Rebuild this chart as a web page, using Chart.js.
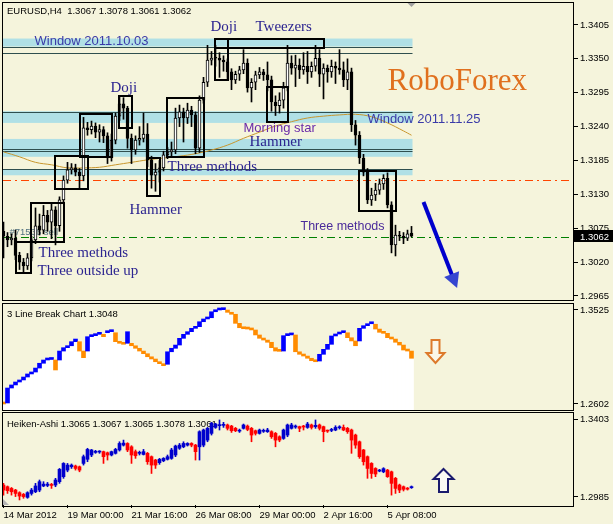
<!DOCTYPE html>
<html>
<head>
    <title>EURUSD,H4</title>
    <script src="https://cdn.jsdelivr.net/npm/chart.js"></script>
    <style>
        body { margin: 0; background: #F5F4DC; }
        canvas { position: absolute; left: 0; }
        #mainChart { top: 0; }
        #lbChart { top: 302px; }
        #haChart { top: 412px; }
    </style>
</head>
<body>
    <canvas id="mainChart" width="613" height="302"></canvas>
    <canvas id="lbChart" width="613" height="110"></canvas>
    <canvas id="haChart" width="613" height="112"></canvas>

    <script>
        // ---- EURUSD H4 candles ----
        const opens = [
            1.3070,1.3062,1.3056,1.3059,1.3031,1.3020,1.3014,1.3027,1.3056,1.3079,
            1.3072,1.3096,1.3085,1.3105,1.3079,1.3121,1.3153,1.3170,1.3173,1.3166,
            1.3160,1.3238,1.3235,1.3241,1.3231,1.3235,1.3225,1.3189,1.3218,1.3257,
            1.3277,1.3270,1.3221,1.3202,1.3218,1.3221,1.3228,1.3186,1.3161,1.3166,
            1.3173,1.3194,1.3199,1.3202,1.3254,1.3264,1.3254,1.3267,1.3259,1.3205,
            1.3283,1.3312,1.3348,1.3351,1.3351,1.3348,1.3345,1.3329,1.3316,1.3325,
            1.3332,1.3343,1.3303,1.3312,1.3324,1.3329,1.3324,1.3316,1.3280,1.3274,
            1.3283,1.3303,1.3343,1.3335,1.3340,1.3332,1.3338,1.3329,1.3338,1.3351,
            1.3325,1.3335,1.3329,1.3338,1.3335,1.3332,1.3316,1.3329,1.3243,1.3226,
            1.3189,1.3166,1.3121,1.3129,1.3137,1.3147,1.3156,1.3113,1.3048,1.3064,
            1.3062,1.3059,1.3067
        ];
        const highs = [
            1.3085,1.3068,1.3066,1.3072,1.3036,1.3026,1.3034,1.3062,1.3108,1.3098,
            1.3112,1.3104,1.3114,1.3110,1.3126,1.3160,1.3182,1.3180,1.3179,1.3172,
            1.3255,1.3247,1.3249,1.3246,1.3243,1.3240,1.3230,1.3228,1.3262,1.3290,
            1.3287,1.3273,1.3228,1.3225,1.3240,1.3262,1.3245,1.3192,1.3180,1.3185,
            1.3200,1.3206,1.3215,1.3270,1.3275,1.3270,1.3278,1.3273,1.3264,1.3290,
            1.3320,1.3372,1.3362,1.3372,1.3360,1.3355,1.3350,1.3334,1.3330,1.3338,
            1.3365,1.3350,1.3318,1.3330,1.3336,1.3333,1.3345,1.3322,1.3290,1.3295,
            1.3312,1.3372,1.3355,1.3356,1.3350,1.3360,1.3362,1.3345,1.3372,1.3365,
            1.3342,1.3340,1.3348,1.3345,1.3365,1.3345,1.3350,1.3335,1.3250,1.3232,
            1.3195,1.3172,1.3140,1.3148,1.3155,1.3162,1.3165,1.3118,1.3080,1.3070,
            1.3068,1.3072,1.3078
        ];
        const lows = [
            1.3027,1.3045,1.3048,1.3024,1.3008,1.3003,1.3008,1.3022,1.3050,1.3064,
            1.3066,1.3070,1.3058,1.3048,1.3070,1.3115,1.3148,1.3163,1.3160,1.3140,
            1.3152,1.3226,1.3228,1.3222,1.3215,1.3214,1.3180,1.3184,1.3212,1.3250,
            1.3252,1.3205,1.3180,1.3195,1.3210,1.3215,1.3175,1.3140,1.3135,1.3150,
            1.3168,1.3188,1.3192,1.3196,1.3240,1.3215,1.3245,1.3240,1.3196,1.3198,
            1.3278,1.3305,1.3340,1.3338,1.3320,1.3330,1.3318,1.3300,1.3310,1.3315,
            1.3326,1.3296,1.3280,1.3300,1.3318,1.3315,1.3298,1.3265,1.3258,1.3262,
            1.3270,1.3298,1.3325,1.3305,1.3318,1.3325,1.3310,1.3320,1.3330,1.3305,
            1.3285,1.3312,1.3320,1.3310,1.3325,1.3305,1.3300,1.3232,1.3210,1.3180,
            1.3160,1.3115,1.3112,1.3120,1.3130,1.3138,1.3108,1.3035,1.3030,1.3055,
            1.3050,1.3055,1.3061
        ];
        const closes = [
            1.3062,1.3056,1.3059,1.3031,1.3020,1.3014,1.3027,1.3056,1.3079,1.3072,
            1.3096,1.3085,1.3105,1.3079,1.3121,1.3153,1.3170,1.3173,1.3166,1.3160,
            1.3238,1.3235,1.3241,1.3231,1.3235,1.3225,1.3189,1.3218,1.3257,1.3277,
            1.3270,1.3221,1.3202,1.3218,1.3221,1.3228,1.3186,1.3161,1.3166,1.3173,
            1.3194,1.3199,1.3202,1.3254,1.3264,1.3254,1.3267,1.3259,1.3205,1.3283,
            1.3312,1.3348,1.3351,1.3351,1.3348,1.3345,1.3329,1.3316,1.3325,1.3332,
            1.3343,1.3303,1.3312,1.3324,1.3329,1.3324,1.3316,1.3280,1.3274,1.3283,
            1.3303,1.3343,1.3335,1.3340,1.3332,1.3338,1.3329,1.3338,1.3351,1.3325,
            1.3335,1.3329,1.3338,1.3335,1.3332,1.3316,1.3329,1.3243,1.3226,1.3189,
            1.3166,1.3121,1.3129,1.3137,1.3147,1.3156,1.3113,1.3048,1.3064,1.3062,
            1.3059,1.3066,1.3062
        ];

        // moving average, read every 4th bar
        const maIdx = [0,4,8,12,16,20,24,28,32,36,40,44,48,52,56,60,64,68,72,76,80,84,88,92,96,100,102];
        const maVals = [
            1.3199,1.3191,1.3182,1.3178,1.3173,1.3173,1.3174,1.3178,1.3182,1.3186,
            1.3189,1.3192,1.3196,1.3202,1.3210,1.3221,1.3231,1.3241,1.3248,1.3254,
            1.3257,1.3259,1.3260,1.3256,1.3246,1.3233,1.3226
        ];

        const priceTicks = [1.3405, 1.3350, 1.3295, 1.3240, 1.3185, 1.3130, 1.3075, 1.3020, 1.2965];
        const timeTicks = [0, 16, 32, 48, 64, 80, 96];
        const timeLabels = ['14 Mar 2012', '19 Mar 00:00', '21 Mar 16:00', '26 Mar 08:00', '29 Mar 00:00', '2 Apr 16:00', '5 Apr 08:00'];

        // window zones and levels
        const zoneBands = [[1.3383, 1.3370], [1.3265, 1.3246], [1.3220, 1.3191], [1.3171, 1.3161]];
        const zoneLines = [1.3369, 1.3359, 1.3264, 1.3204, 1.3200, 1.3171];
        const stopLevel = 1.3154;
        const orderLevel = 1.3061;
        const lastPrice = 1.3062;

        // candle pattern boxes: first bar, last bar, top, bottom
        const patternBoxes = [
            [3, 7, 1.3053, 1.3002],
            [7, 15, 1.3116, 1.3053],
            [12.8, 21, 1.3192, 1.3139],
            [19, 27, 1.3260, 1.3191],
            [28.8, 32.2, 1.3289, 1.3237],
            [35.9, 39.1, 1.3189, 1.3128],
            [40.9, 50.1, 1.3287, 1.3191],
            [52.8, 56.2, 1.3383, 1.3316],
            [52.8, 80.1, 1.3382, 1.3367],
            [65.9, 71.1, 1.3305, 1.3247],
            [88.8, 98, 1.3168, 1.3103]
        ];

        // ---- 3 line break ----
        const lbOpen = [
            1.2622,1.2612,1.2759,1.2789,1.2818,1.2838,1.2867,1.2897,1.2916,1.2955,
            1.3002,1.3034,1.3039,1.3034,1.3034,1.3122,1.3155,1.3174,1.3214,1.3214,
            1.3122,1.3122,1.3263,1.3273,1.3286,1.3286,1.3302,1.3312,1.3302,1.3214,
            1.3198,1.3198,1.3198,1.3174,1.3149,1.3122,1.3096,1.3066,1.3044,1.3017,
            1.2998,1.2992,1.3115,1.3149,1.3181,1.3247,1.3286,1.3312,1.3345,1.3361,
            1.3410,1.3437,1.3449,1.3508,1.3525,1.3528,1.3525,1.3502,1.3483,1.3394,
            1.3351,1.3341,1.3338,1.3329,1.3280,1.3247,1.3230,1.3208,1.3155,1.3122,
            1.3122,1.3273,1.3280,1.3280,1.3115,1.3090,1.3073,1.3051,1.3027,1.3024,
            1.3090,1.3139,1.3188,1.3270,1.3289,1.3302,1.3302,1.3253,1.3221,1.3221,
            1.3345,1.3371,1.3390,1.3385,1.3338,1.3306,1.3296,1.3253,1.3240,1.3208,
            1.3181,1.3132,1.3122
        ];
        const lbClose = [
            1.2602,1.2759,1.2789,1.2818,1.2838,1.2867,1.2897,1.2916,1.2955,1.3002,
            1.3034,1.3039,1.3044,1.2936,1.3122,1.3155,1.3174,1.3214,1.3240,1.3122,
            1.3057,1.3263,1.3273,1.3286,1.3302,1.3263,1.3312,1.3319,1.3214,1.3198,
            1.3188,1.3312,1.3174,1.3149,1.3122,1.3096,1.3066,1.3044,1.3017,1.2998,
            1.2978,1.3115,1.3149,1.3181,1.3247,1.3286,1.3312,1.3345,1.3361,1.3410,
            1.3437,1.3449,1.3508,1.3525,1.3528,1.3535,1.3502,1.3483,1.3394,1.3351,
            1.3341,1.3338,1.3329,1.3280,1.3247,1.3230,1.3208,1.3155,1.3122,1.3119,
            1.3273,1.3280,1.3289,1.3115,1.3090,1.3073,1.3051,1.3027,1.3017,1.3090,
            1.3139,1.3188,1.3270,1.3289,1.3302,1.3306,1.3253,1.3221,1.3174,1.3345,
            1.3371,1.3390,1.3397,1.3338,1.3306,1.3296,1.3253,1.3240,1.3208,1.3181,
            1.3132,1.3122,1.3051
        ];
        const lbTicks = [1.3525, 1.2602];

        // ---- Heiken-Ashi ----
        const haOpen = [
            1.3049,1.3040,1.3031,1.3022,1.3008,1.2999,1.2983,1.3004,1.3013,1.3022,
            1.3044,1.3047,1.3051,1.3049,1.3067,1.3094,1.3129,1.3147,1.3151,1.3147,
            1.3165,1.3187,1.3210,1.3224,1.3226,1.3228,1.3222,1.3210,1.3219,1.3237,
            1.3263,1.3272,1.3254,1.3228,1.3219,1.3213,1.3219,1.3201,1.3183,1.3169,
            1.3179,1.3187,1.3192,1.3210,1.3246,1.3254,1.3263,1.3272,1.3263,1.3254,
            1.3263,1.3290,1.3326,1.3358,1.3367,1.3369,1.3371,1.3365,1.3353,1.3338,
            1.3353,1.3365,1.3353,1.3340,1.3326,1.3337,1.3335,1.3335,1.3326,1.3308,
            1.3299,1.3317,1.3353,1.3360,1.3362,1.3364,1.3358,1.3371,1.3362,1.3371,
            1.3362,1.3342,1.3342,1.3344,1.3356,1.3358,1.3353,1.3344,1.3317,1.3281,
            1.3237,1.3201,1.3165,1.3138,1.3124,1.3120,1.3129,1.3120,1.3085,1.3049,
            1.3040,1.3031,1.3035
        ];
        const haHigh = [
            1.3058,1.3044,1.3036,1.3026,1.3013,1.3004,1.3013,1.3031,1.3058,1.3076,
            1.3067,1.3063,1.3058,1.3085,1.3138,1.3169,1.3165,1.3162,1.3156,1.3151,
            1.3210,1.3246,1.3240,1.3235,1.3233,1.3231,1.3226,1.3231,1.3246,1.3281,
            1.3290,1.3276,1.3260,1.3237,1.3231,1.3240,1.3224,1.3205,1.3187,1.3192,
            1.3196,1.3210,1.3246,1.3263,1.3272,1.3281,1.3276,1.3276,1.3267,1.3340,
            1.3349,1.3358,1.3385,1.3380,1.3398,1.3385,1.3376,1.3369,1.3358,1.3349,
            1.3376,1.3371,1.3358,1.3344,1.3349,1.3349,1.3353,1.3340,1.3331,1.3313,
            1.3349,1.3376,1.3380,1.3371,1.3365,1.3369,1.3385,1.3376,1.3398,1.3376,
            1.3365,1.3344,1.3353,1.3367,1.3367,1.3371,1.3358,1.3349,1.3322,1.3285,
            1.3240,1.3205,1.3169,1.3142,1.3133,1.3142,1.3133,1.3124,1.3090,1.3054,
            1.3044,1.3036,1.3044
        ];
        const haLow = [
            1.2995,1.3004,1.2995,1.2987,1.2969,1.2978,1.2978,1.2995,1.3008,1.3013,
            1.3040,1.3040,1.3031,1.3040,1.3058,1.3085,1.3120,1.3138,1.3129,1.3120,
            1.3156,1.3174,1.3201,1.3219,1.3219,1.3165,1.3183,1.3205,1.3215,1.3231,
            1.3258,1.3228,1.3165,1.3192,1.3210,1.3210,1.3160,1.3111,1.3138,1.3160,
            1.3174,1.3183,1.3187,1.3201,1.3240,1.3249,1.3258,1.3254,1.3183,1.3183,
            1.3254,1.3281,1.3317,1.3353,1.3344,1.3358,1.3344,1.3331,1.3335,1.3331,
            1.3349,1.3340,1.3281,1.3317,1.3322,1.3331,1.3331,1.3299,1.3254,1.3281,
            1.3294,1.3308,1.3349,1.3353,1.3335,1.3344,1.3353,1.3349,1.3353,1.3344,
            1.3281,1.3331,1.3335,1.3340,1.3349,1.3340,1.3326,1.3219,1.3246,1.3192,
            1.3156,1.3085,1.3085,1.3094,1.3120,1.3115,1.3090,1.2995,1.3004,1.3008,
            1.3017,1.3022,1.3031
        ];
        const haClose = [
            1.3022,1.3019,1.3013,1.3004,1.2990,1.2987,1.3008,1.3022,1.3044,1.3067,
            1.3054,1.3054,1.3047,1.3076,1.3133,1.3165,1.3156,1.3156,1.3138,1.3129,
            1.3201,1.3240,1.3237,1.3230,1.3230,1.3201,1.3210,1.3228,1.3240,1.3272,
            1.3274,1.3237,1.3210,1.3206,1.3224,1.3228,1.3174,1.3156,1.3156,1.3187,
            1.3192,1.3201,1.3237,1.3258,1.3263,1.3272,1.3272,1.3263,1.3228,1.3335,
            1.3344,1.3353,1.3380,1.3376,1.3373,1.3373,1.3353,1.3340,1.3340,1.3342,
            1.3371,1.3347,1.3317,1.3326,1.3344,1.3340,1.3344,1.3308,1.3290,1.3290,
            1.3344,1.3371,1.3371,1.3364,1.3353,1.3360,1.3376,1.3358,1.3369,1.3353,
            1.3335,1.3338,1.3346,1.3358,1.3360,1.3344,1.3335,1.3290,1.3263,1.3201,
            1.3174,1.3138,1.3111,1.3108,1.3128,1.3137,1.3094,1.3058,1.3031,1.3022,
            1.3026,1.3027,1.3038
        ];
        const haTicks = [1.3403, 1.2985];

        // ---- shared look ----
        const SANS = "'Liberation Sans', Arial, sans-serif";
        const SERIF = "'Liberation Serif', 'Times New Roman', serif";
        Chart.defaults.font.family = SANS;
        Chart.defaults.font.size = 9.5;
        Chart.defaults.color = '#000';

        function timeAxis(show) {
            return {
                type: 'linear', min: -0.125, max: 142.625, offset: false, display: show,
                afterBuildTicks: s => { s.ticks = timeTicks.map(v => ({ value: v })); },
                afterFit: s => { if (show) s.height = 19; s.paddingLeft = 0; s.paddingRight = 0; },
                grid: { drawOnChartArea: false, tickLength: 3, tickColor: '#000', offset: false },
                border: { display: false },
                ticks: {
                    align: 'start', maxRotation: 0, autoSkip: false, padding: 2, color: '#000',
                    callback: v => timeLabels[timeTicks.indexOf(v)]
                }
            };
        }

        function priceAxis(min, max, ticks) {
            return {
                position: 'right', min: min, max: max,
                afterBuildTicks: s => { s.ticks = ticks.map(v => ({ value: v })); },
                afterFit: s => { s.width = 39; s.paddingTop = 0; s.paddingBottom = 0; },
                grid: { drawOnChartArea: false, tickLength: 4, tickColor: '#000' },
                border: { display: false },
                ticks: { padding: 2, color: '#000', autoSkip: false, callback: v => v.toFixed(4) }
            };
        }

        function baseOptions(yMin, yMax, yTicks, showTime, padding) {
            return {
                responsive: false,
                animation: false,
                events: [],
                layout: { padding: padding },
                plugins: { legend: { display: false }, tooltip: { enabled: false } },
                scales: { x: timeAxis(showTime), y: priceAxis(yMin, yMax, yTicks) }
            };
        }

        function hollowArrow(ctx, cx, tipY, dir, height, width, shaft, head, stroke, fill) {
            // dir = 1 points down, -1 points up
            const baseY = tipY - dir * height;
            const neckY = tipY - dir * head;
            ctx.beginPath();
            ctx.moveTo(cx - shaft / 2, baseY);
            ctx.lineTo(cx + shaft / 2, baseY);
            ctx.lineTo(cx + shaft / 2, neckY);
            ctx.lineTo(cx + width / 2, neckY);
            ctx.lineTo(cx, tipY);
            ctx.lineTo(cx - width / 2, neckY);
            ctx.lineTo(cx - shaft / 2, neckY);
            ctx.closePath();
            ctx.fillStyle = fill;
            ctx.fill();
            ctx.strokeStyle = stroke;
            ctx.lineWidth = 2;
            ctx.stroke();
        }

        // text notes on the main chart: text, bar, price (baseline), font, colour
        const NAVY = '#2c2490';
        const mainNotes = [
            ['Window 2011.10.03', 7.75, 1.33725, '13px ' + SANS, '#3a3aa8'],
            ['Doji', 26.75, 1.3296, '15px ' + SERIF, NAVY],
            ['Doji', 51.75, 1.3395, '15px ' + SERIF, NAVY],
            ['Tweezers', 63, 1.3395, '15px ' + SERIF, NAVY],
            ['RoboForex', 96, 1.32994, '31px ' + SERIF, '#E0701E'],
            ['Window 2011.11.25', 91, 1.32463, '13px ' + SANS, '#3a3aa8'],
            ['Morning star', 60, 1.3231, '13px ' + SANS, '#6a2aa8'],
            ['Hammer', 61.5, 1.3209, '15px ' + SERIF, NAVY],
            ['Three methods', 41, 1.3168, '15px ' + SERIF, NAVY],
            ['Hammer', 31.5, 1.3098, '15px ' + SERIF, NAVY],
            ['Three methods', 74.25, 1.3072, '12.5px ' + SANS, '#4a2a9a'],
            ['Three methods', 8.75, 1.3028, '15px ' + SERIF, NAVY],
            ['Three outside up', 8.5, 1.2999, '15px ' + SERIF, NAVY]
        ];
        const trendArrow = [105, 1.31176, 113.4, 1.29779];

        const mainDecor = {
            id: 'mainDecor',
            beforeDatasetsDraw(chart) {
                const { ctx, chartArea: a, scales: { x, y } } = chart;
                const zoneEnd = x.getPixelForValue(closes.length - 1) + 1;
                ctx.save();
                ctx.fillStyle = '#B0E0E6';
                zoneBands.forEach(([top, bot]) => {
                    const y1 = y.getPixelForValue(top), y2 = y.getPixelForValue(bot);
                    ctx.fillRect(a.left, y1, zoneEnd - a.left, y2 - y1);
                });
                ctx.strokeStyle = '#2F4F4F';
                ctx.lineWidth = 1;
                zoneLines.forEach(p => {
                    const yy = Math.round(y.getPixelForValue(p)) + 0.5;
                    ctx.beginPath(); ctx.moveTo(a.left, yy); ctx.lineTo(zoneEnd, yy); ctx.stroke();
                });
                // order levels, dash-dot
                ctx.setLineDash([8, 4, 2, 4]);
                [[stopLevel, '#FF4500'], [orderLevel, '#008000']].forEach(([p, c]) => {
                    const yy = Math.round(y.getPixelForValue(p)) + 0.5;
                    ctx.strokeStyle = c;
                    ctx.beginPath(); ctx.moveTo(a.left, yy); ctx.lineTo(a.right - 2, yy); ctx.stroke();
                });
                ctx.setLineDash([]);
                ctx.font = '9.5px ' + SANS;
                ctx.fillStyle = '#50707f';
                ctx.fillText('#71536 sell', x.getPixelForValue(1.5), y.getPixelForValue(1.3064));
                ctx.restore();
            },
            afterDatasetsDraw(chart) {
                const { ctx, scales: { x, y } } = chart;
                ctx.save();
                ctx.strokeStyle = '#000';
                ctx.lineWidth = 2;
                patternBoxes.forEach(([i0, i1, top, bot]) => {
                    const x0 = Math.round(x.getPixelForValue(i0)), x1 = Math.round(x.getPixelForValue(i1));
                    const y0 = Math.round(y.getPixelForValue(top)), y1 = Math.round(y.getPixelForValue(bot));
                    ctx.strokeRect(x0, y0, x1 - x0, y1 - y0);
                });
                mainNotes.forEach(([t, i, p, f, c]) => {
                    ctx.font = f;
                    ctx.fillStyle = c;
                    ctx.fillText(t, x.getPixelForValue(i), y.getPixelForValue(p));
                });
                ctx.restore();
            },
            afterDraw(chart) {
                const { ctx, chartArea: a, scales: { x, y } } = chart;
                ctx.save();
                // frame
                ctx.strokeStyle = '#000';
                ctx.lineWidth = 1;
                ctx.strokeRect(2.5, 2.5, a.right - 3, a.bottom - 2);
                // header
                ctx.font = '9.5px ' + SANS;
                ctx.fillStyle = '#000';
                ctx.fillText('EURUSD,H4  1.3067 1.3078 1.3061 1.3062', 7, 14);
                // shift marker
                const mx = x.getPixelForValue(closes.length - 1);
                ctx.fillStyle = '#A0A0A0';
                ctx.beginPath(); ctx.moveTo(mx - 4, 3); ctx.lineTo(mx + 4, 3); ctx.lineTo(mx, 7); ctx.closePath(); ctx.fill();
                // trend arrow
                const [ti0, tp0, ti1, tp1] = trendArrow;
                const x0 = x.getPixelForValue(ti0), y0 = y.getPixelForValue(tp0);
                const x1 = x.getPixelForValue(ti1), y1 = y.getPixelForValue(tp1);
                const ang = Math.atan2(y1 - y0, x1 - x0);
                const cs = Math.cos(ang), sn = Math.sin(ang);
                const bx = x1 - 15 * cs, by = y1 - 15 * sn;
                ctx.strokeStyle = '#0000CC';
                ctx.lineWidth = 4;
                ctx.beginPath(); ctx.moveTo(x0, y0); ctx.lineTo(bx + 2 * cs, by + 2 * sn); ctx.stroke();
                ctx.fillStyle = '#3545D0';
                ctx.beginPath();
                ctx.moveTo(x1, y1);
                ctx.lineTo(bx + 8 * sn, by - 8 * cs);
                ctx.lineTo(bx - 8 * sn, by + 8 * cs);
                ctx.closePath(); ctx.fill();
                // last price tag
                const py = Math.round(y.getPixelForValue(lastPrice));
                ctx.fillStyle = '#000';
                ctx.fillRect(a.right, py - 6, 39, 12);
                ctx.fillStyle = '#FFF';
                ctx.fillText(lastPrice.toFixed(4), a.right + 6, py + 4);
                ctx.restore();
            }
        };

        const barIdx = closes.map((c, i) => i);
        new Chart(document.getElementById('mainChart'), {
            type: 'bar',
            data: {
                datasets: [
                    {
                        label: 'Bodies',
                        data: barIdx.map(i => ({ x: i, y: [opens[i], closes[i]] })),
                        backgroundColor: barIdx.map(i => closes[i] > opens[i] ? '#FFFFFF' : '#000000'),
                        borderColor: '#000', borderWidth: 1, borderSkipped: false,
                        barThickness: 3, minBarLength: 1, grouped: false
                    },
                    {
                        label: 'Wicks',
                        data: barIdx.map(i => ({ x: i, y: [lows[i], highs[i]] })),
                        backgroundColor: '#000', barThickness: 1, grouped: false
                    },
                    {
                        type: 'line', label: 'MA',
                        data: maIdx.map((i, k) => ({ x: i, y: maVals[k] })),
                        borderColor: '#C8962D', borderWidth: 1, pointRadius: 0, tension: 0.4
                    }
                ]
            },
            options: baseOptions(1.29585, 1.34407, priceTicks, false, { left: 3, top: 3, right: 0, bottom: 2 }),
            plugins: [mainDecor]
        });

        // ---- 3 line break pane ----
        const lbDecor = {
            id: 'lbDecor',
            beforeDatasetsDraw(chart) {
                const { ctx } = chart;
                ctx.save();
                ctx.font = '9.5px ' + SANS;
                ctx.fillStyle = '#000';
                ctx.fillText('3 Line Break Chart 1.3048', 7, 15);
                ctx.restore();
            },
            afterDraw(chart) {
                const { ctx, chartArea: a, scales: { x, y } } = chart;
                ctx.save();
                ctx.strokeStyle = '#000';
                ctx.lineWidth = 1;
                ctx.strokeRect(2.5, 1.5, a.right - 3, 107);
                hollowArrow(ctx, x.getPixelForValue(108), y.getPixelForValue(1.3230) + 23, 1, 23, 18, 8, 10, '#DD7A2C', '#FBF7EA');
                ctx.restore();
            }
        };

        const lbIdx = lbOpen.map((o, s) => s);
        new Chart(document.getElementById('lbChart'), {
            type: 'bar',
            data: {
                datasets: [
                    {
                        label: 'Bricks',
                        data: lbIdx.map(s => ({ x: s, y: [lbOpen[s], lbClose[s]] })),
                        backgroundColor: lbIdx.map(s => lbClose[s] > lbOpen[s] ? '#0000FF' : '#FF8C00'),
                        barThickness: 4, minBarLength: 2, grouped: false
                    },
                    {
                        label: 'Fill',
                        data: lbIdx.map(s => ({ x: s, y: [1.25, Math.max(lbOpen[s], lbClose[s])] })),
                        backgroundColor: '#FFFFFF', barThickness: 4, grouped: false
                    }
                ]
            },
            options: baseOptions(1.2543, 1.35839, lbTicks, false, { left: 3, top: 2, right: 0, bottom: 2 }),
            plugins: [lbDecor]
        });

        // ---- Heiken-Ashi pane ----
        const haDecor = {
            id: 'haDecor',
            beforeDatasetsDraw(chart) {
                const { ctx } = chart;
                ctx.save();
                ctx.font = '9.5px ' + SANS;
                ctx.fillStyle = '#000';
                ctx.fillText('Heiken-Ashi 1.3065 1.3067 1.3065 1.3078 1.3061', 7, 15);
                ctx.restore();
            },
            afterDraw(chart) {
                const { ctx, chartArea: a, scales: { x, y } } = chart;
                ctx.save();
                ctx.strokeStyle = '#000';
                ctx.lineWidth = 1;
                ctx.strokeRect(2.5, 0.5, a.right - 3, 94);
                ctx.fillStyle = '#B4B4B4';
                ctx.beginPath(); ctx.moveTo(3, a.bottom); ctx.lineTo(3, a.bottom - 6); ctx.lineTo(9, a.bottom); ctx.closePath(); ctx.fill();
                hollowArrow(ctx, x.getPixelForValue(110), y.getPixelForValue(1.3135), -1, 23, 20, 9, 10, '#1A1A6E', '#FAFAF4');
                ctx.restore();
            }
        };

        const haIdx = haOpen.map((o, k) => k);
        const haColors = haIdx.map(k => haClose[k] >= haOpen[k] ? '#0000CD' : '#FF0000');
        new Chart(document.getElementById('haChart'), {
            type: 'bar',
            data: {
                datasets: [
                    {
                        label: 'HA bodies',
                        data: haIdx.map(k => ({ x: k, y: [haOpen[k], haClose[k]] })),
                        backgroundColor: haColors, barThickness: 3, minBarLength: 1, grouped: false
                    },
                    {
                        label: 'HA wicks',
                        data: haIdx.map(k => ({ x: k, y: [haLow[k], haHigh[k]] })),
                        backgroundColor: haColors, barThickness: 1, grouped: false
                    }
                ]
            },
            options: baseOptions(1.2942, 1.34352, haTicks, true, { left: 3, top: 1, right: 0, bottom: 0 }),
            plugins: [haDecor]
        });
    </script>
</body>
</html>
